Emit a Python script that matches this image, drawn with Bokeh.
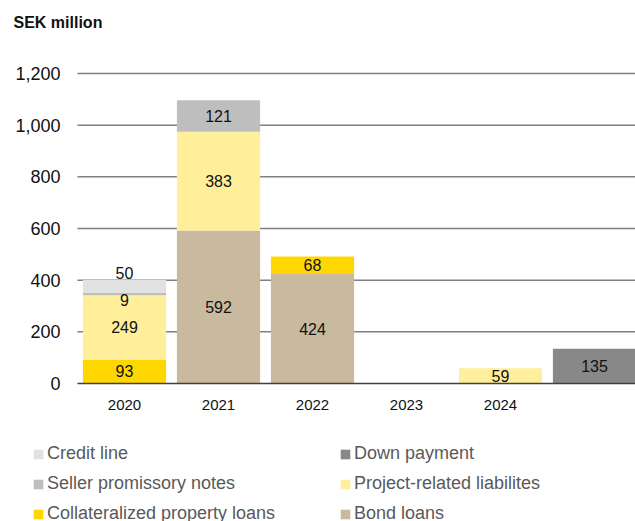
from bokeh.plotting import figure
from bokeh.models import (ColumnDataSource, Range1d, LabelSet, Label, Legend, LegendItem)
from bokeh.core.properties import value
from bokeh.embed import file_html
from bokeh.resources import INLINE

categories = ["2020", "2021", "2022", "2023", "2024", ""]
bond_loans = [0, 592, 424, 0, 0, 0]
collateralized = [93, 0, 68, 0, 0, 0]
project_related = [249, 383, 0, 0, 59, 0]
seller_notes = [9, 121, 0, 0, 0, 0]
credit_line = [50, 0, 0, 0, 0, 0]
down_payment = [0, 0, 0, 0, 0, 135]
y_ticks = [0, 200, 400, 600, 800, 1000, 1200]

series = [
    ("bond", "Bond loans", bond_loans, "#C9B99F"),
    ("coll", "Collateralized property loans", collateralized, "#FFD700"),
    ("proj", "Project-related liabilites", project_related, "#FFEF9B"),
    ("sell", "Seller promissory notes", seller_notes, "#BEBEBE"),
    ("cred", "Credit line", credit_line, "#E1E1E1"),
    ("down", "Down payment", down_payment, "#888888"),
]

# pixel nudges for crowded labels (style only)
nudges = {("2020", "cred"): 13, ("2020", "sell"): -6}

FONT = "Liberation Sans"
W, H = 635, 521
PLOT_LEFT, PLOT_TOP, PLOT_BOTTOM = 77, 73, 383   # pixel layout of the chart area
SLOT = 94.0                                       # pixels per category slot

xs = list(range(len(categories)))
px_per_unit = (PLOT_BOTTOM - PLOT_TOP) / float(y_ticks[-1])
x_start = -0.5 - PLOT_LEFT / SLOT
x_end = -0.5 + (W - PLOT_LEFT) / SLOT
y_start = -(H - PLOT_BOTTOM) / px_per_unit
y_end = PLOT_BOTTOM / px_per_unit

data = {"x": xs}
for key, _, vals, _ in series:
    data[key] = vals
src = ColumnDataSource(data)

p = figure(width=W, height=H, output_backend="svg", toolbar_location=None, title=None,
           x_range=Range1d(x_start, x_end), y_range=Range1d(y_start, y_end),
           x_axis_location=None, y_axis_location=None,
           min_border_left=0, min_border_right=0, min_border_top=0, min_border_bottom=0)
p.outline_line_color = None
p.background_fill_color = "white"
p.border_fill_color = "white"
p.xgrid.grid_line_color = None
p.ygrid.grid_line_color = None

# gridlines (value axis)
grid_y = [t for t in y_ticks if t != 0]
p.segment(x0=[-0.5] * len(grid_y), x1=[x_end] * len(grid_y), y0=grid_y, y1=grid_y,
          line_color="#808080", line_width=1.5)

renderers = p.vbar_stack([s[0] for s in series], x="x", width=0.885, source=src,
                         color=[s[3] for s in series], line_color=None)

# category axis baseline
p.segment(x0=[-0.5], x1=[x_end], y0=[0], y1=[0], line_color="#404040", line_width=1.5)

# y tick labels
ytl = ColumnDataSource(dict(x=[-0.5] * len(y_ticks), y=y_ticks,
                            t=["{:,}".format(t) for t in y_ticks]))
p.add_layout(LabelSet(x="x", y="y", text="t", source=ytl, x_offset=-17,
                      text_align="right", text_baseline="middle",
                      text_font=value(FONT), text_font_size="18px", text_color="#111111"))

# x category labels
xtl = ColumnDataSource(dict(x=xs, y=[0] * len(xs), t=categories))
p.add_layout(LabelSet(x="x", y="y", text="t", source=xtl, y_offset=-21,
                      text_align="center", text_baseline="middle",
                      text_font=value(FONT), text_font_size="15px", text_color="#111111"))

# segment labels
lx, ly, lt, lo = [], [], [], []
for i in xs:
    base = 0
    for key, _, vals, _ in series:
        v = vals[i]
        if v > 0:
            lx.append(i)
            ly.append(base + v / 2)
            lt.append(str(v))
            lo.append(nudges.get((categories[i], key), 0))
        base += v
lab_src = ColumnDataSource(dict(x=lx, y=ly, t=lt, o=lo))
p.add_layout(LabelSet(x="x", y="y", text="t", y_offset="o", source=lab_src,
                      text_align="center", text_baseline="middle",
                      text_font=value(FONT), text_font_size="16px", text_color="#111111"))

# title
p.add_layout(Label(x=13, y=H - 22, x_units="screen", y_units="screen", text="SEK million",
                   text_font=FONT, text_font_size="16px", text_font_style="bold",
                   text_color="#111111", text_baseline="middle"))

# legend
rmap = {s[0]: r for s, r in zip(series, renderers)}
names = {s[0]: s[1] for s in series}
order = ["cred", "down", "sell", "proj", "coll", "bond"]
items = [LegendItem(label=names[k], renderers=[rmap[k]]) for k in order]
legend = Legend(items=items, location=(32, -3), ncols=2, orientation="horizontal",
                label_text_font=FONT, label_text_font_size="18px", label_text_color="#595959",
                glyph_width=12, glyph_height=12, label_width=283, label_height=20,
                spacing=9, padding=0, margin=0, border_line_color=None,
                background_fill_alpha=0, label_standoff=3)
p.add_layout(legend)

open("out.html", "w").write(file_html(p, INLINE))
